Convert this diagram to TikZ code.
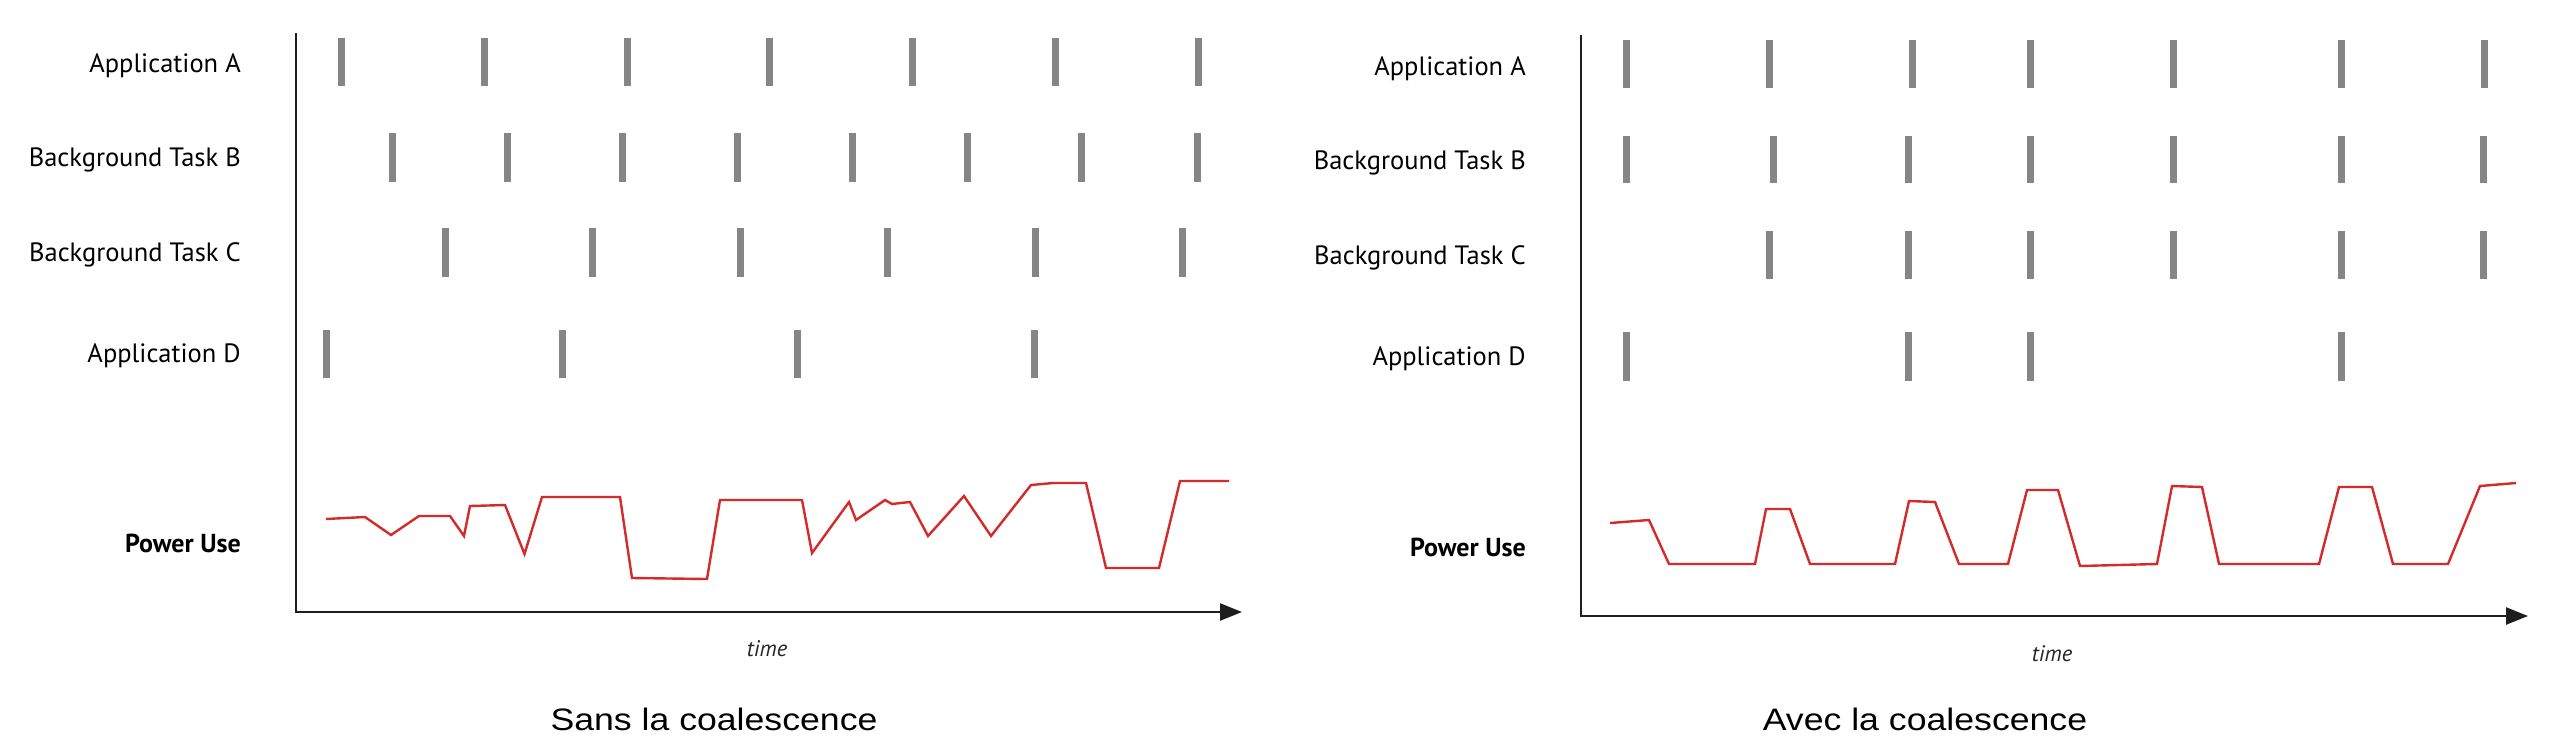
\documentclass[tikz,border=0pt]{standalone}
\usepackage{fontspec}
\usepackage{graphicx}
\setmainfont{PT Sans}
\newfontfamily\capfont{Liberation Sans}
\usetikzlibrary{arrows.meta}
\definecolor{barg}{HTML}{858585}
\definecolor{pwr}{HTML}{D42A2A}
\definecolor{axc}{HTML}{1E1E1E}
\begin{document}
\begin{tikzpicture}[x=1pt,y=-1pt,
  lbl/.style={anchor=base east, inner sep=0pt, text=black, font=\fontsize{26.5}{30}\selectfont},
  plbl/.style={lbl, font=\bfseries\fontsize{26}{30}\selectfont},
  timelbl/.style={anchor=base, inner sep=0pt, text=black!85, font=\itshape\fontsize{22.5}{26}\selectfont},
  caplbl/.style={anchor=base, inner sep=0pt, text=black, font=\capfont\fontsize{31}{36}\selectfont},
  tick/.style={draw=barg, line width=7pt},
  axisline/.style={draw=axc, line width=2.4pt, -{Triangle[length=22pt,width=17pt]}},
  powerline/.style={draw=pwr, line width=2.4pt, line join=miter}]
\useasboundingbox (0,0) rectangle (2572,750);

% ---------------- left panel ----------------
\node[lbl] (lA) at (241,72) {Application A};
\node[lbl] (lB) at (241,166) {Background Task B};
\node[lbl] (lC) at (241,261) {Background Task C};
\node[lbl] (lD) at (241,362) {Application D};
\node[plbl] (lP) at (241,552.5) {Power Use};

\coordinate (ltop) at (296,33);
\coordinate (lorig) at (296,612);
\coordinate (lend) at (1242,612);
\draw[axisline] (ltop) -- (lorig) -- (lend);

\foreach \x in {341.5,484,627,769.5,912,1055,1198} \draw[tick] (\x,38) -- (\x,86);
\foreach \x in {392,507,622,737,852,967,1081,1197} \draw[tick] (\x,133) -- (\x,182);
\foreach \x in {445,592,740,887,1035,1182} \draw[tick] (\x,228) -- (\x,277);
\foreach \x in {326,562,797,1034} \draw[tick] (\x,330) -- (\x,378);

\draw[powerline] (326,519) -- (365,517) -- (391,535) -- (419,516) -- (450,516)
  -- (464,536) -- (470,506) -- (505,505) -- (524.5,554) -- (542,497) -- (620,497)
  -- (632,578) -- (707,579) -- (720,500) -- (802,500) -- (812,553) -- (849,502)
  -- (856,520) -- (885,500) -- (892,504) -- (910,502) -- (928,536) -- (964,496)
  -- (991,536) -- (1031,485) -- (1053,483) -- (1086,483) -- (1106,568) -- (1159,568)
  -- (1180,481) -- (1229,481);

\node[timelbl] (lt) at (767,656) {time};
\node[caplbl] (lcap) at (714,730) {\scalebox{1.15}[1]{Sans la coalescence}};

% ---------------- right panel ----------------
\node[lbl] (rA) at (1526,75) {Application A};
\node[lbl] (rB) at (1526,169) {Background Task B};
\node[lbl] (rC) at (1526,264) {Background Task C};
\node[lbl] (rD) at (1526,365) {Application D};
\node[plbl] (rP) at (1526,556) {Power Use};

\coordinate (rtop) at (1581,35);
\coordinate (rorig) at (1581,616);
\coordinate (rend) at (2528,616);
\draw[axisline] (rtop) -- (rorig) -- (rend);

\foreach \x in {1626,1769,1912,2030,2173,2341,2484} \draw[tick] (\x,40) -- (\x,88);
\foreach \x in {1626,1773,1908,2030,2173,2341,2483} \draw[tick] (\x,136) -- (\x,183);
\foreach \x in {1769,1908,2030,2173,2341,2483} \draw[tick] (\x,231) -- (\x,279);
\foreach \x in {1626,1908,2030,2341} \draw[tick] (\x,332) -- (\x,381);

\draw[powerline] (1610,523) -- (1649,520) -- (1669,564) -- (1755,564) -- (1766,509)
  -- (1790,509) -- (1810,564) -- (1895,564) -- (1909,501) -- (1935,502) -- (1959,564)
  -- (2008,564) -- (2027,490) -- (2058,490) -- (2080,566) -- (2157,564) -- (2172,486)
  -- (2202,487) -- (2219,564) -- (2319,564) -- (2339,487) -- (2372,487) -- (2393,564)
  -- (2448,564) -- (2480,486) -- (2516,483);

\node[timelbl] (rt) at (2052,661.5) {time};
\node[caplbl] (rcap) at (1925,730) {\scalebox{1.15}[1]{Avec la coalescence}};
\end{tikzpicture}
\end{document}
